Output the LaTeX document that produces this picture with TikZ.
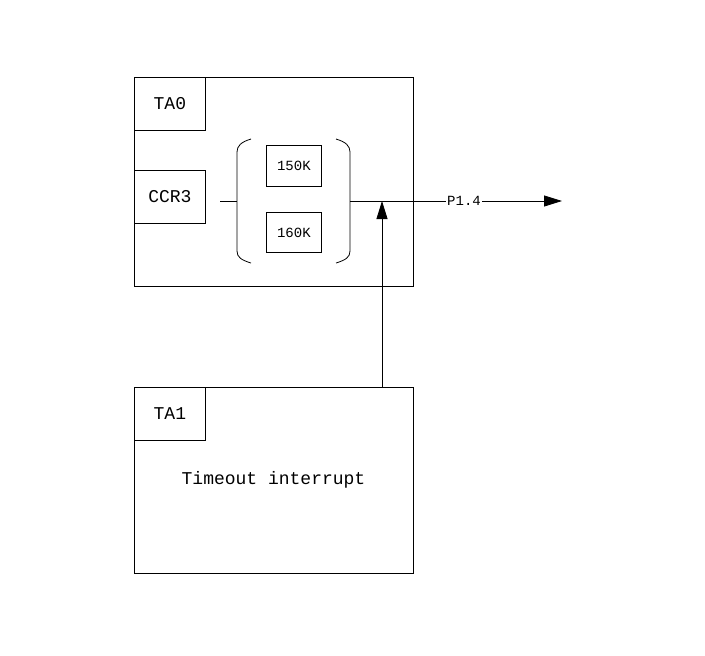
\documentclass[tikz,border=0pt]{standalone}
\usepackage{fontspec}
\setmonofont{Liberation Mono}
\usetikzlibrary{arrows.meta}

\tikzset{
  box/.style={draw, inner sep=0pt, anchor=north west},
  big/.style={font=\ttfamily\fontsize{18}{20}\selectfont},
  small/.style={font=\ttfamily\fontsize{14}{16}\selectfont},
  arr/.style={-{Triangle[length=18pt,width=11pt]}}
}

\begin{document}
\begin{tikzpicture}[x=1pt, y=-1pt, line width=0.8pt]
    \useasboundingbox (0,0) rectangle (705,656);
    % Define coordinates for the bracket and the wires
    \coordinate (left stub) at (220,201);
    \coordinate (left mid) at (237,201);
    \coordinate (right mid) at (350,201);
    \coordinate (out end) at (562,201);
    \coordinate (tap) at (382,201);

    % Upper timer block
    \node[box, minimum width=279pt, minimum height=209pt] (ta0 block) at (134,77) {};
    \node[box, big, minimum width=71pt, minimum height=53pt] (ta0) at (134,77) {TA0};
    \node[box, big, minimum width=71pt, minimum height=53pt] (ccr3) at (134,170) {CCR3};
    \node[box, small, minimum width=55pt, minimum height=41pt] (k150) at (266,145) {150K};
    \node[box, small, minimum width=55pt, minimum height=40pt] (k160) at (266,212) {160K};

    % Brackets round the two values
    \draw (251,139) .. controls (241,142) and (237,146) .. (237,152) -- (237,251)
          .. controls (237,257) and (241,260) .. (251,263);
    \draw (336,139) .. controls (346,142) and (350,146) .. (350,152) -- (350,251)
          .. controls (350,257) and (346,260) .. (336,263);
    \draw (left stub) -- (left mid);

    % Output to P1.4
    \draw[arr] (right mid) -- (out end);
    \node[small, fill=white, inner sep=1pt] (p14) at (464,201) {P1.4};

    % Lower timer block
    \node[box, minimum width=279pt, minimum height=186pt] (ta1 block) at (134,387) {};
    \node[box, big, minimum width=71pt, minimum height=53pt] (ta1) at (134,387) {TA1};
    \node[big] (timeout) at (273.5,480) {Timeout interrupt};

    \draw[arr] (tap |- ta1 block.north) -- (tap);
\end{tikzpicture}
\end{document}
